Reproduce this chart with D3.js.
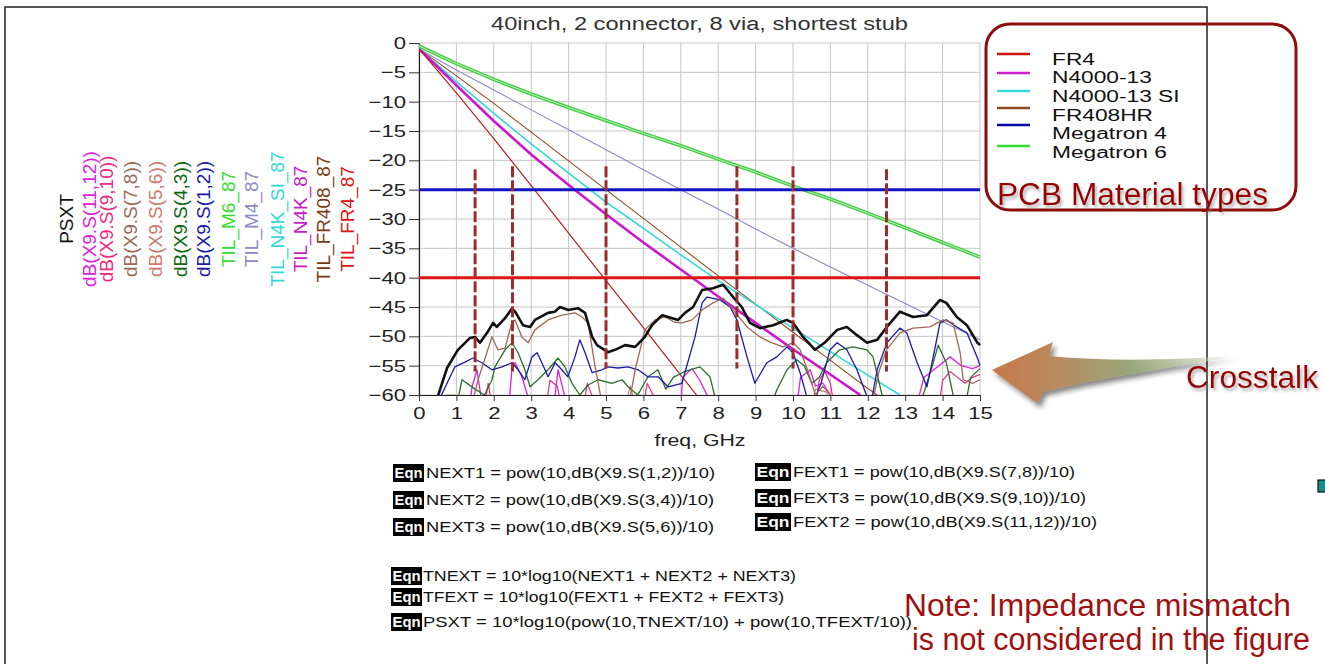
<!DOCTYPE html>
<html><head><meta charset="utf-8">
<script src="https://cdn.jsdelivr.net/npm/d3@7"></script>
<style>
html,body{margin:0;padding:0;background:#fff;}
svg{display:block;font-family:"Liberation Sans",Arial,sans-serif;}
</style></head><body>
<svg id="c" width="1325" height="664"></svg>
<script>
// ---------------- DATA ----------------
const title = "40inch, 2 connector, 8 via, shortest stub";
const xLabel = "freq, GHz";
const xTicks = [0,1,2,3,4,5,6,7,8,9,10,11,12,13,14,15];
const yTicks = [0,-5,-10,-15,-20,-25,-30,-35,-40,-45,-50,-55,-60];

// insertion loss traces [freq GHz, dB]
const ilM6   = [[0,-0.5],[1,-3.5],[2,-6.2],[3,-8.7],[4,-11],[5,-13.2],[6,-15.4],[7,-17.5],[8,-19.8],[9,-22],[10,-24.4],[11,-26.6],[12,-29],[13,-31.5],[14,-34],[15,-36.5]];
const ilM4   = [[0,-1],[1,-4.6],[2,-8.0],[3,-11.4],[4,-14.8],[5,-18.2],[6,-21.6],[7,-25],[8,-28.3],[9,-31.7],[10,-35],[11,-38.2],[12,-41.3],[13,-44.4],[14,-47.5],[15,-50.6]];
const ilN4KSI= [[0,-1],[1,-6.6],[2,-12],[3,-17.2],[4,-22.2],[5,-27.1],[6,-31.6],[7,-36.1],[8,-40.5],[9,-44.6],[10,-48.6],[11,-52.6],[12,-56.6],[12.86,-60]];
const ilN4K  = [[0,-1],[1,-7.2],[2,-13.3],[3,-19],[4,-24.2],[5,-29.2],[6,-34],[7,-38.6],[8,-43.2],[9,-47.7],[10,-52.2],[11,-56.5],[11.8,-60]];
const ilFR408= [[0,-1],[1,-5.6],[2,-10.3],[3,-15.2],[4,-20.1],[5,-25],[6,-29.9],[7,-34.8],[8,-39.7],[9,-44.5],[10,-49.3],[11,-54.1],[12,-58.9],[12.25,-60]];
const ilFR4  = [[0,-1],[1,-8.5],[2,-16.3],[3,-24.3],[4,-32.4],[5,-40.5],[6,-48.5],[7,-56.6],[7.42,-60]];

// reference levels (dB)
const refRed = -40;
const refBlue = -25;
// dashed markers: freq, top dB, bottom dB
const markFreq = [1.5, 2.5, 5, 8.5, 10, 12.5];
const markTop  = [-21.5, -21, -21, -21, -21, -21.5];
const markBot  = [-56, -56, -55.5, -55.5, -55.5, -56];

// crosstalk traces [freq, dB]; null = gap
const psxt = [[0.45,-62],[0.5,-60.3],[0.75,-55.4],[1.04,-52.3],[1.36,-50.3],[1.5,-50.1],[1.63,-51.1],[1.82,-49.4],[1.98,-47.7],[2.08,-48.4],[2.3,-46.9],[2.48,-45.3],[2.57,-45.8],[2.78,-48.1],[2.97,-48.4],[3.1,-47.2],[3.45,-46],[3.63,-45.8],[3.77,-45],[3.99,-45.5],[4.25,-45.2],[4.44,-46],[4.63,-50.1],[4.76,-51.5],[5.05,-52.7],[5.24,-52.3],[5.51,-51.5],[5.78,-51.8],[6.04,-50.1],[6.23,-48.1],[6.5,-46.4],[6.66,-46.7],[6.93,-47.2],[7.11,-46],[7.33,-45],[7.57,-42.1],[7.86,-41.8],[8.13,-41.2],[8.4,-43.3],[8.63,-45],[8.85,-47.7],[9.12,-48.6],[9.47,-48.1],[9.83,-47.2],[10.0,-47.7],[10.27,-50.1],[10.59,-52.3],[10.86,-51],[11.18,-48.9],[11.44,-48.4],[11.71,-49.8],[11.98,-51.1],[12.25,-50.6],[12.51,-48.4],[12.86,-45.8],[13.21,-46.7],[13.58,-46.4],[13.93,-43.8],[14.1,-44.3],[14.38,-46.7],[14.65,-48.1],[14.92,-51],[15,-51.5]];
const s78 = [[1.4,-62],[1.58,-57.4],[1.95,-50.1],[2.11,-52.3],[2.3,-52],[2.48,-47.7],[2.57,-47.2],[2.75,-50.1],[2.92,-51.1],[3.1,-48.9],[3.45,-47.2],[3.82,-46.4],[4.17,-46],[4.36,-46.7],[4.52,-47.7],[4.71,-55.2],[4.85,-60],[4.95,-62],null,[5.6,-62],[5.78,-55.7],[6.04,-48.9],[6.31,-47.2],[6.58,-46.7],[6.84,-47.6],[7.03,-47.7],[7.3,-47.2],[7.57,-45.5],[7.86,-44.3],[8.13,-43.5],[8.4,-45.5],[8.77,-48.4],[9.12,-50.1],[9.39,-51],[9.73,-51.8],[10.0,-51.1],[10.19,-52.3],[10.4,-56],[10.6,-60],[10.8,-58.5],[11.0,-60],[11.1,-62],null,[12.1,-62],[12.3,-56],[12.5,-52.3],[12.86,-49.4],[13.21,-48.6],[13.66,-48.4],[14.01,-47.2],[14.28,-47.7],[14.47,-52.8],[14.55,-57.4],[14.81,-58],[15,-57.4]];
const s12 = [[0.55,-62],[0.6,-60],[0.96,-55.2],[1.23,-54.4],[1.44,-53.7],[1.68,-54.5],[1.95,-55.7],[2.22,-55.2],[2.49,-54.5],[2.65,-55.7],[2.83,-57.4],[3.02,-53.5],[3.16,-52.8],[3.37,-55.7],[3.45,-56.9],[3.64,-54.5],[3.82,-55.7],[3.98,-56.9],[4.17,-53.5],[4.3,-50.6],[4.44,-52.8],[4.63,-56.2],[4.89,-55.7],[5.05,-55.2],[5.32,-55.4],[5.59,-55.2],[5.86,-55.7],[6.12,-56.9],[6.39,-56.9],[6.66,-58.6],[7.03,-58],[7.38,-50.1],[7.57,-44.3],[7.7,-43.3],[8.05,-43.8],[8.32,-45],[8.5,-47.2],[8.77,-53.5],[8.98,-58],[9.3,-54.5],[9.57,-53.5],[9.84,-51.8],[10.0,-52.8],[10.19,-56.2],[10.37,-60.3],[10.5,-62],[10.75,-58],[10.99,-52.3],[11.18,-51.1],[11.44,-52.3],[11.71,-55.7],[11.98,-60.3],[12.1,-61],[12.25,-55.7],[12.51,-51.1],[12.86,-48.6],[13.04,-49.4],[13.32,-54.5],[13.58,-58.6],[13.75,-53.5],[13.93,-47.7],[14.1,-47.2],[14.38,-48.4],[14.65,-49.4],[14.95,-54],[15,-55]];
const s43 = [[1.0,-62],[1.15,-57.4],[1.5,-59],[1.75,-60],[1.95,-57.4],[2.03,-55.2],[2.3,-52.3],[2.49,-51.1],[2.65,-52.8],[2.83,-55.7],[2.97,-58.6],[3.18,-57.4],[3.45,-55.7],[3.72,-53.7],[3.9,-55.2],[4.09,-58],[4.3,-60],[4.52,-58.3],[4.79,-57.4],[5.16,-58],[5.43,-57.4],[5.59,-58.6],[5.85,-60],[6.12,-56.9],[6.39,-55.7],[6.6,-59],[6.8,-57],[7.1,-56],[7.51,-55.2],[7.78,-56.9],[7.9,-60],[8.0,-62],null,[9.4,-62],[9.57,-59.1],[9.84,-55.7],[10.1,-54],[10.3,-55],[10.5,-58],[10.7,-57],[10.9,-54.5],[11.25,-52.3],[11.6,-51.8],[11.98,-52.3],[12.14,-53.5],[12.38,-60],[12.45,-62],null,[13.4,-62],[13.48,-60],[13.75,-54.5],[13.88,-51.5],[14.1,-54.5],[14.28,-60],[14.35,-62],null,[14.6,-62],[14.75,-57],[15,-55.5]];
const s1112 = [[1.35,-62],[1.42,-58.6],[1.55,-55.7],[1.65,-60],[1.7,-62],null,[2.4,-62],[2.49,-55.2],[2.57,-54.5],[2.75,-56.9],[2.9,-60],[3.0,-62],null,[3.6,-62],[3.72,-55.7],[3.85,-59],[3.95,-62],null,[7.0,-62],[7.05,-57],[7.3,-55.5],[7.5,-57.4],[7.7,-60],[7.8,-62],null,[10.1,-62],[10.2,-57],[10.46,-55.7],[10.6,-58.5],[10.8,-58],[11.0,-60],[11.1,-62],null,[13.3,-62],[13.5,-57],[13.9,-55],[14.2,-53.5],[14.5,-55],[14.8,-55.5],[15,-55]];
const s910 = [[1.75,-62],[1.85,-58],[1.95,-62],null,[3.4,-62],[3.5,-57.5],[3.7,-58.5],[3.8,-62],null,[4.4,-62],[4.5,-58],[4.65,-60.5],null,[6.0,-62],[6.1,-58],[6.3,-60.5],null,[10.6,-62],[10.7,-57.5],[10.85,-56],[11.0,-58],[11.1,-62],null,[13.9,-62],[14.0,-57.5],[14.2,-56],[14.4,-57],[14.6,-58],[14.8,-57],[15,-56.5]];
const s56 = [[0.7,-62],[0.75,-60],[1.0,-60],[1.05,-62],null,[5.5,-62],[5.65,-58.5],[5.8,-62],null,[10.5,-62],[10.6,-59],[10.9,-59.5],[11.0,-62]];

const traceLabels = ["PSXT","dB(X9.S(11,12))","dB(X9.S(9,10))","dB(X9.S(7,8))","dB(X9.S(5,6))","dB(X9.S(4,3))","dB(X9.S(1,2))","TIL_M6_87","TIL_M4_87","TIL_N4K_SI_87","TIL_N4K_87","TIL_FR408_87","TIL_FR4_87"];
const traceColors = ["#111111","#dd22dd","#ee2a80","#9a6a55","#cc7a72","#116611","#1a1aa8","#33dd33","#8a8ac4","#33d8d8","#cc18cc","#7a3a10","#dd1111"];

const legendNames = ["FR4","N4000-13","N4000-13 SI","FR408HR","Megatron 4","Megatron 6"];
const legendColors = ["#cc1111","#cc22cc","#33dddd","#8b4a22","#0a0aa8","#33dd33"];

const eqLeft  = ["NEXT1 = pow(10,dB(X9.S(1,2))/10)","NEXT2 = pow(10,dB(X9.S(3,4))/10)","NEXT3 = pow(10,dB(X9.S(5,6))/10)"];
const eqRight = ["FEXT1 = pow(10,dB(X9.S(7,8))/10)","FEXT3 = pow(10,dB(X9.S(9,10))/10)","FEXT2 = pow(10,dB(X9.S(11,12))/10)"];
const eqBottom= ["TNEXT = 10*log10(NEXT1 + NEXT2 + NEXT3)","TFEXT = 10*log10(FEXT1 + FEXT2 + FEXT3)","PSXT = 10*log10(pow(10,TNEXT/10) + pow(10,TFEXT/10))"];

// ---------------- DRAW ----------------
const svg = d3.select("#c");
const x = d3.scaleLinear().domain([0,15]).range([419,980]);
const y = d3.scaleLinear().domain([-60,0]).range([395,43]);

function stretch(sel,k){sel.each(function(){const w=this.getComputedTextLength();d3.select(this).attr("textLength",w*k).attr("lengthAdjust","spacingAndGlyphs");});}
function fit(sel,w){sel.attr("textLength",w).attr("lengthAdjust","spacingAndGlyphs");}

const defs = svg.append("defs");
defs.append("clipPath").attr("id","plotclip").append("rect")
  .attr("x",x(0)).attr("y",y(0)-2).attr("width",x(15)-x(0)+1).attr("height",y(-60)-y(0)+2);
const sh = defs.append("filter").attr("id","tshadow").attr("x","-10%").attr("y","-30%").attr("width","130%").attr("height","170%");
sh.append("feDropShadow").attr("dx",2).attr("dy",3).attr("stdDeviation",1.5).attr("flood-color","#777").attr("flood-opacity",0.55);
const ash = defs.append("filter").attr("id","ashadow").attr("x","-20%").attr("y","-30%").attr("width","140%").attr("height","180%");
ash.append("feDropShadow").attr("dx",3).attr("dy",4).attr("stdDeviation",2.5).attr("flood-color","#222").attr("flood-opacity",0.55);
const grad = defs.append("linearGradient").attr("id","agrad").attr("x1",0).attr("y1",0).attr("x2",1).attr("y2",0);
[[0,"#c4784a",1],[0.25,"#b98a5e",1],[0.55,"#9aa67c",1],[0.8,"#b8c9a6",0.7],[1,"#eaf0e2",0]].forEach(s=>
  grad.append("stop").attr("offset",s[0]).attr("stop-color",s[1]).attr("stop-opacity",s[2]));

// outer frame
svg.append("rect").attr("x",5).attr("y",7).attr("width",1202).attr("height",700)
  .attr("fill","none").attr("stroke","#222").attr("stroke-width",1.5);

// title
svg.append("text").attr("x",699.5).attr("y",30).attr("text-anchor","middle")
  .attr("font-size",18).attr("fill","#333").text(title).call(fit,417);

// grid
const grid = svg.append("g").attr("stroke","#c6c6c6").attr("stroke-width",1);
grid.selectAll("line.v").data(xTicks).join("line").attr("x1",d=>x(d)).attr("x2",d=>x(d)).attr("y1",y(0)).attr("y2",y(-60));
grid.selectAll("line.h").data(yTicks).join("line").attr("x1",x(0)).attr("x2",x(15)).attr("y1",d=>y(d)).attr("y2",d=>y(d));

// axes
const ya = svg.append("g").attr("transform",`translate(${x(0)},0)`)
  .call(d3.axisLeft(y).tickValues(yTicks).tickSize(10).tickSizeOuter(0).tickPadding(3));
const xa = svg.append("g").attr("transform",`translate(0,${y(-60)})`)
  .call(d3.axisBottom(x).tickValues(xTicks).tickSize(6).tickSizeOuter(0).tickPadding(6));
[ya,xa].forEach(a=>{
  a.select(".domain").attr("stroke","#222").attr("stroke-width",1.2);
  a.selectAll(".tick line").attr("stroke","#333");
  a.selectAll("text").attr("font-size",17).attr("fill","#222").attr("font-family","Liberation Sans, Arial, sans-serif").call(stretch,1.3);
});
svg.append("text").attr("x",700).attr("y",446).attr("text-anchor","middle").attr("font-size",17)
  .attr("fill","#222").text(xLabel).call(fit,91);

// plot traces
const plot = svg.append("g").attr("clip-path","url(#plotclip)");
const line = d3.line().defined(d=>d!==null).x(d=>x(d[0])).y(d=>y(d[1]));

const ilSeries = [
  {d:ilM4, c:"#8a8ac4", w:1.1},
  {d:ilFR408, c:"#8b4a22", w:1.1},
  {d:ilN4KSI, c:"#33d8d8", w:1.6},
  {d:ilN4K, c:"#cc18cc", w:2.6},
  {d:ilFR4, c:"#b52020", w:1.2},
];
ilSeries.forEach(s=>plot.append("path").attr("d",line(s.d)).attr("fill","none").attr("stroke",s.c).attr("stroke-width",s.w));
plot.append("path").attr("d",line(ilM6)).attr("fill","none").attr("stroke","#44cc44").attr("stroke-width",3.6);
plot.append("path").attr("d",line(ilM6)).attr("fill","none").attr("stroke","#bff0bf").attr("stroke-width",1);

const xtSeries = [
  {d:s56, c:"#cc7a72", w:1.2},
  {d:s910, c:"#ee2a80", w:1.2},
  {d:s1112, c:"#dd22dd", w:1.3},
  {d:s43, c:"#2a6e2a", w:1.3},
  {d:s12, c:"#1a1aa8", w:1.3},
  {d:s78, c:"#9a6a55", w:1.3},
  {d:psxt, c:"#111111", w:2.6},
];
xtSeries.forEach(s=>plot.append("path").attr("d",line(s.d)).attr("fill","none").attr("stroke",s.c).attr("stroke-width",s.w).attr("stroke-linejoin","round"));

// reference lines
plot.append("line").attr("x1",x(0)).attr("x2",x(15)).attr("y1",y(refRed)).attr("y2",y(refRed)).attr("stroke","#dd1515").attr("stroke-width",3);
plot.append("line").attr("x1",x(0)).attr("x2",x(15)).attr("y1",y(refBlue)).attr("y2",y(refBlue)).attr("stroke","#1414c4").attr("stroke-width",3);

// dashed markers
svg.append("g").selectAll("line").data(markFreq).join("line")
  .attr("x1",d=>x(d)).attr("x2",d=>x(d))
  .attr("y1",(d,i)=>y(markTop[i])).attr("y2",(d,i)=>y(markBot[i]))
  .attr("stroke","#9c2d2d").attr("stroke-width",3).attr("stroke-dasharray","11,3");

// rotated trace labels
const labX = [66,89,106,130,155,180,203,228,251,277,300,323,347];
svg.append("g").selectAll("text").data(traceLabels).join("text")
  .attr("transform",(d,i)=>`translate(${labX[i]+7},219) rotate(-90)`)
  .attr("text-anchor","middle").attr("font-size",19)
  .attr("fill",(d,i)=>traceColors[i]).text(d=>d).call(stretch,1.0);

// legend
svg.append("rect").attr("x",986).attr("y",24).attr("width",310).attr("height",186).attr("rx",24)
  .attr("fill","none").attr("stroke","#8e0c0c").attr("stroke-width",3);
const legLineY = [54,73,91,108,125,146];
const legTextY = [65,83,102,121,139,158];
const lg = svg.append("g");
lg.selectAll("line").data(legendNames).join("line")
  .attr("x1",997).attr("x2",1030).attr("y1",(d,i)=>legLineY[i]).attr("y2",(d,i)=>legLineY[i])
  .attr("stroke",(d,i)=>legendColors[i]).attr("stroke-width",2.6);
lg.selectAll("text").data(legendNames).join("text")
  .attr("x",1052).attr("y",(d,i)=>legTextY[i]).attr("font-size",16).attr("fill","#111")
  .text(d=>d).call(stretch,1.42);
svg.append("text").attr("x",997).attr("y",205).attr("font-size",31).attr("fill","#990000")
  .attr("filter","url(#tshadow)").text("PCB Material types").call(fit,271);

// crosstalk arrow
svg.append("path")
  .attr("d","M992,370 L1053,342 L1049,356 C1110,362 1180,360 1244,355 C1180,366 1100,378 1043,392 L1038,404 Z")
  .attr("fill","url(#agrad)").attr("filter","url(#ashadow)");
svg.append("text").attr("x",1186).attr("y",388).attr("font-size",31).attr("fill","#990000")
  .attr("filter","url(#tshadow)").text("Crosstalk").call(fit,132);

// small teal marker at edge
svg.append("rect").attr("x",1318).attr("y",480).attr("width",10).attr("height",12)
  .attr("fill","#1a8a8a").attr("stroke","#111").attr("stroke-width",1.2);

// equations
function eqRow(bx,bw,by,tx,text,tw){
  svg.append("rect").attr("x",bx).attr("y",by).attr("width",bw).attr("height",18).attr("fill","#000");
  svg.append("text").attr("x",bx+bw/2).attr("y",by+14).attr("text-anchor","middle").attr("font-size",15)
    .attr("font-weight","bold").attr("fill","#fff").text("Eqn").call(fit,bw-3);
  svg.append("text").attr("x",tx).attr("y",by+14).attr("font-size",15).attr("fill","#111").text(text).call(fit,tw);
}
const leftTop=[464,491,518], leftW=[289,288,288];
eqLeft.forEach((t,i)=>eqRow(393,31,leftTop[i],426,t,leftW[i]));
const rightTop=[463,489,513], rightW=[282,293,304];
eqRight.forEach((t,i)=>eqRow(755,36,rightTop[i],793,t,rightW[i]));
const botTop=[567,588,613], botW=[373,361,489];
eqBottom.forEach((t,i)=>eqRow(391,31,botTop[i],423,t,botW[i]));

// note
svg.append("text").attr("x",904).attr("y",616).attr("font-size",32).attr("fill","#a01010").text("Note: Impedance mismatch").call(fit,387);
svg.append("text").attr("x",912).attr("y",650).attr("font-size",31).attr("fill","#a01010").text("is not considered in the figure").call(fit,398);
</script>
</body></html>
